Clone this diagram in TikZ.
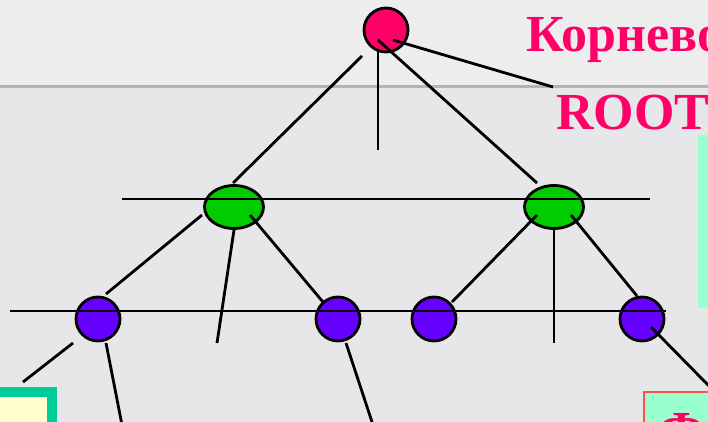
\documentclass[tikz,border=0pt]{standalone}
\usepackage{fontspec}
\setmainfont{Liberation Serif}
\usetikzlibrary{shapes.geometric}
\definecolor{bgc}{RGB}{231,231,233}
\definecolor{rulec}{RGB}{180,180,182}
\definecolor{pinkc}{RGB}{255,0,102}
\definecolor{greenc}{RGB}{0,204,0}
\definecolor{purplec}{RGB}{102,0,255}
\definecolor{tealc}{RGB}{0,204,153}
\definecolor{yellowc}{RGB}{255,255,204}
\definecolor{mintc}{RGB}{153,255,204}
\definecolor{redc}{RGB}{255,80,80}
\tikzset{
  link/.style={draw=black, line width=2.8pt},
  rootnode/.style={circle, draw=black, line width=2.8pt, fill=pinkc, minimum size=44pt, inner sep=0pt},
  midnode/.style={ellipse, draw=black, line width=2.8pt, fill=greenc, minimum width=59pt, minimum height=43pt, inner sep=0pt},
  leafnode/.style={circle, draw=black, line width=2.8pt, fill=purplec, minimum size=44pt, inner sep=0pt},
  bigtext/.style={text=pinkc, font=\bfseries\fontsize{52}{60}\selectfont, inner sep=0pt}
}
\begin{document}
\begin{tikzpicture}[x=1pt,y=-1pt]
\useasboundingbox (0,0) rectangle (708,422);
\clip (0,0) rectangle (708,422);
\fill[bgc] (0,0) rectangle (708,422);
\fill[white, opacity=0.25] (0,0) rectangle (708,86);
\draw[rulec, line width=3pt] (0,87) -- (708,87);

% side boxes
\node (rbox) [draw=none, fill=mintc, anchor=north west, minimum width=20pt, minimum height=173pt, inner sep=0pt] at (698,135) {};
\node (lbox) [draw=tealc, line width=10pt, fill=yellowc, anchor=north west, minimum width=60pt, minimum height=60pt, inner sep=0pt] at (-13,387) {};
\node (brbox) [draw=redc, line width=1.5pt, fill=mintc, anchor=north west, minimum width=80pt, minimum height=60pt, inner sep=0pt] at (643,391) {};
\node (fchar) [bigtext, anchor=base] at (682,447) {Ф};

% texts
\node (t1) [bigtext, anchor=base west] at (526,52) {Корнево};
\node (t2) [bigtext, anchor=base west] at (556,130) {ROOT};

% nodes
\node (root) [rootnode] at (386,30) {};
\node (g1) [midnode] at (234,207) {};
\node (g2) [midnode] at (554,207) {};
\node (p1) [leafnode] at (98,319) {};
\node (p2) [leafnode] at (338,319) {};
\node (p3) [leafnode] at (434,319) {};
\node (p4) [leafnode] at (642,319) {};

% connector end points
\coordinate (ra) at (362,56);
\coordinate (rb) at (378,50);
\coordinate (rb2) at (378,150);
\coordinate (rc) at (378,40);
\coordinate (rd) at (393,40);
\coordinate (lblend) at (553,87);
\coordinate (g1top) at (233,183);
\coordinate (g2top) at (537,183);
\coordinate (h1a) at (122,199);
\coordinate (h1b) at (650,199);
\coordinate (h2a) at (10,311);
\coordinate (h2b) at (666,311);
\coordinate (g1l) at (202,215);
\coordinate (g1m) at (234,230);
\coordinate (g1r) at (250,215);
\coordinate (p1t) at (106,294);
\coordinate (dang1) at (217,343);
\coordinate (p2t) at (323,302);
\coordinate (g2l) at (537,215);
\coordinate (g2m) at (554,230);
\coordinate (g2r) at (571,215);
\coordinate (p3t) at (452,302);
\coordinate (dang2) at (554,343);
\coordinate (p4t) at (637,296);
\coordinate (p1bl) at (73,343);
\coordinate (lboxtop) at (23,382);
\coordinate (p1b) at (106,343);
\coordinate (end1) at (122,425);
\coordinate (p2b) at (346,343);
\coordinate (end2) at (373,425);
\coordinate (p4b) at (651,327);
\coordinate (end3) at (710,387);

% connectors
\draw[link] (ra) -- (g1top);
\draw[link] (rb) -- (rb2);
\draw[link] (rc) -- (g2top);
\draw[link] (rd) -- (lblend);
\draw[link] (h1a) -- (h1b);
\draw[link] (h2a) -- (h2b);
\draw[link] (g1l) -- (p1t);
\draw[link] (g1m) -- (dang1);
\draw[link] (g1r) -- (p2t);
\draw[link] (g2l) -- (p3t);
\draw[link] (g2m) -- (dang2);
\draw[link] (g2r) -- (p4t);
\draw[link] (p1bl) -- (lboxtop);
\draw[link] (p1b) -- (end1);
\draw[link] (p2b) -- (end2);
\draw[link] (p4b) -- (end3);
\end{tikzpicture}
\end{document}
